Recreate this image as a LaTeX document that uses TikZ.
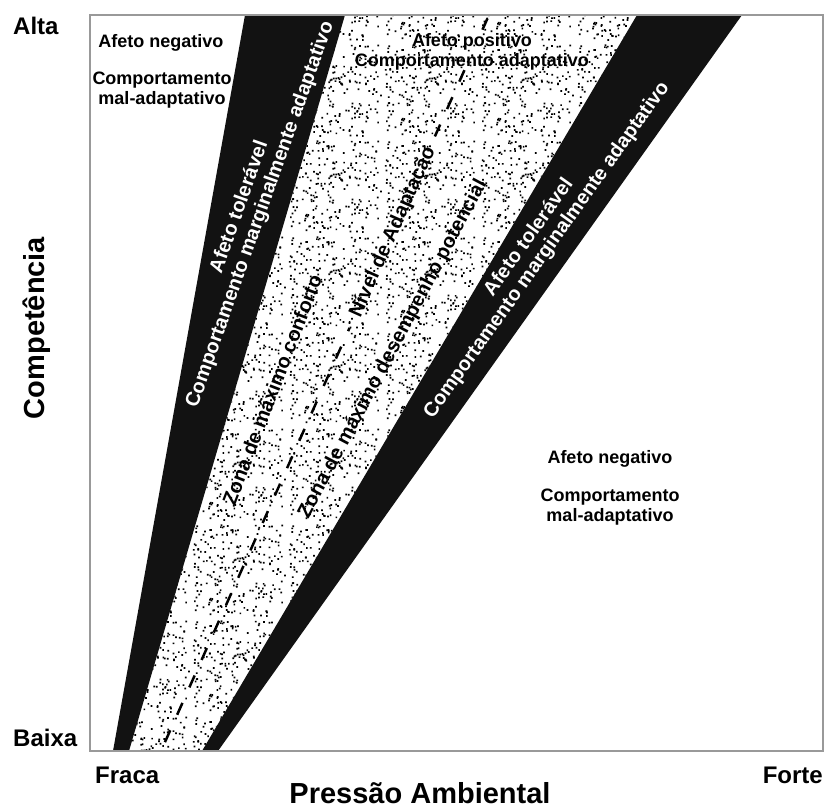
\documentclass[tikz,border=0pt]{standalone}
\usepackage{fontspec}
\setmainfont{Liberation Sans}
\usetikzlibrary{patterns,calc}
\pgfdeclarepatternformonly{stipple}{\pgfpointorigin}{\pgfpoint{96pt}{96pt}}{\pgfpoint{96pt}{96pt}}{%
  \pgfmathsetseed{41}%
  \foreach \k in {1,...,250}{%
    \pgfmathsetmacro\px{1+92*rnd}%
    \pgfmathsetmacro\py{1+92*rnd}%
    \pgfpathrectangle{\pgfpoint{\px pt}{\py pt}}{\pgfpoint{1.7pt}{1.7pt}}%
    \pgfusepath{fill}%
  }%
}
\tikzset{
  lbl/.style={font=\bfseries\fontsize{18}{20}\selectfont, align=center, inner sep=1pt},
  rlbl/.style={font=\bfseries\fontsize{20}{22}\selectfont, align=center, inner sep=1pt},
  wlbl/.style={rlbl, text=white},
  axl/.style={font=\bfseries\fontsize{24}{26}\selectfont, inner sep=0pt},
  axt/.style={font=\bfseries\fontsize{29}{31}\selectfont, inner sep=0pt},
  dashline/.style={line width=2.5pt, dash pattern=on 13pt off 17pt, black},
  framestyle/.style={draw=gray!80, line width=1.3pt}
}
\begin{document}
\begin{tikzpicture}[x=1pt,y=-1pt]
\useasboundingbox (0,0) rectangle (824,809);
% band corners
\coordinate (LBl) at (113,751);
\coordinate (LTl) at (245,15);
\coordinate (LBr) at (129,751);
\coordinate (LTr) at (345,15);
\coordinate (RBl) at (202,751);
\coordinate (RTl) at (637,15);
\coordinate (RBr) at (218,751);
\coordinate (RTr) at (742,15);
% dotted zone
\fill[pattern=stipple] (LBr) -- (LTr) -- (RTl) -- (RBl) -- cycle;
% black bands
\fill[black!93] (LBl) -- (LTl) -- (LTr) -- (LBr) -- cycle;
\fill[black!93] (RBl) -- (RTl) -- (RTr) -- (RBr) -- cycle;
% frame
\draw[framestyle] (90,15) rectangle (823,751);
% dashed line (Nivel de Adaptacao)
\coordinate (dbot) at (161,751);
\coordinate (dtop) at (489,15);
\draw[dashline] ($(dbot)!0.012!(dtop)$) -- ($(dbot)!0.575!(dtop)$);
\draw[dashline] ($(dbot)!0.835!(dtop)$) -- ($(dbot)!0.925!(dtop)$);
\draw[dashline] ($(dbot)!0.98!(dtop)$) -- ($(dbot)!0.995!(dtop)$);
% labels
\node[lbl] (tlA) at (161,43) {Afeto negativo};
\node[lbl] (tlB) at (162,90) {Comportamento\\mal-adaptativo};
\node[lbl] (brA) at (610,459) {Afeto negativo};
\node[lbl] (brB) at (610,507) {Comportamento\\mal-adaptativo};
\node[lbl] (tp) at (472,52) {Afeto positivo\\Comportamento adaptativo};
\node[wlbl, rotate=70.5] (lb) at (250,211) {Afeto tolerável\\Comportamento marginalmente adaptativo};
\node[wlbl, rotate=54.5] (rb) at (538,244) {Afeto tolerável\\Comportamento marginalmente adaptativo};
\node[rlbl, rotate=69] (z1) at (272,390) {Zona de máximo conforto};
\node[rlbl, rotate=66] (nv) at (393,232) {Nível de Adaptação};
\node[rlbl, rotate=62] (z2) at (393,349) {Zona de máximo desempenho potencial};
% axes
\node[axl, anchor=west] (alta) at (13,26) {Alta};
\node[axl, anchor=west] (baixa) at (13,738) {Baixa};
\node[axl, anchor=west] (fraca) at (95,775) {Fraca};
\node[axl, anchor=east] (forte) at (823,775) {Forte};
\node[axt, rotate=90] (comp) at (37,328) {Competência};
\node[axt] (press) at (420,793) {Pressão Ambiental};
\end{tikzpicture}
\end{document}
